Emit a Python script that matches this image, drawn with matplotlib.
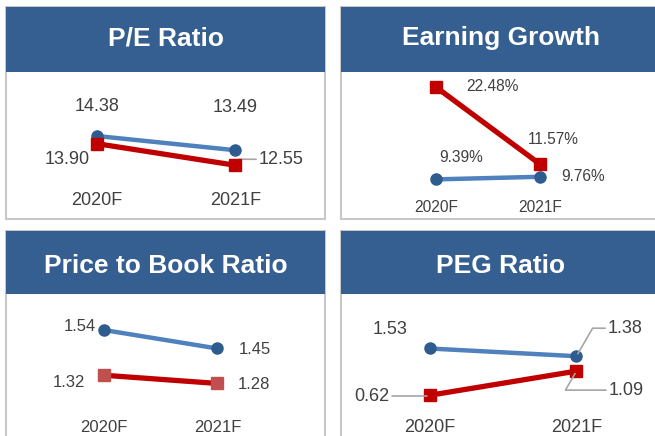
import matplotlib

matplotlib.use('Agg')
import matplotlib.pyplot as plt
from matplotlib.patches import Rectangle

plt.rcParams['font.family'] = ['Liberation Sans', 'DejaVu Sans']

W, H = 655, 436

# data
years = ['2020F', '2021F']
titles = ['P/E Ratio', 'Earning Growth', 'Price to Book Ratio', 'PEG Ratio']
blue_values = [[14.38, 13.49], [9.39, 9.76], [1.54, 1.45], [1.53, 1.38]]
red_values = [[13.90, 12.55], [22.48, 11.57], [1.32, 1.28], [0.62, 1.09]]
blue_labels = [['14.38', '13.49'], ['9.39%', '9.76%'], ['1.54', '1.45'], ['1.53', '1.38']]
red_labels = [['13.90', '12.55'], ['22.48%', '11.57%'], ['1.32', '1.28'], ['0.62', '1.09']]

HEADER = '#365f91'
BORDER = '#c8c8c8'
TEXT = '#404040'
BLUE_LINE = '#4f81bd'
BLUE_MARK = '#2f5c8f'
RED_LINE = '#c00000'

# layout per panel, in pixels: outline, header height, xlim, ylim, font sizes,
# label offsets (dx, dy in px, y up) and leader-line flags
panels = [
	dict(box=(6, 7, 325, 219), head=65, xlim=(-0.655, 1.647), ylim=(9.19, 18.38),
		fs=13, tick_y=200, title_y=45,
		blue_off=[(0, 29), (0, 43)], red_off=[(-30, -16), (46, 6)],
		blue_lead=[False, False], red_lead=[False, True]),
	dict(box=(341, 7, 662, 219), head=65, xlim=(-0.912, 2.176), ylim=(3.78, 24.60),
		fs=11.2, tick_y=207, title_y=45,
		blue_off=[(25, 22), (43, 0)], red_off=[(57, 0), (14, 24)],
		blue_lead=[False, False], red_lead=[False, False]),
	dict(box=(6, 231, 325, 440), head=63, xlim=(-0.860, 1.947), ylim=(1.005, 1.715),
		fs=12, tick_y=427, title_y=273,
		blue_off=[(-24, 3), (37, -1)], red_off=[(-35, -7), (37, -1)],
		blue_lead=[False, False], red_lead=[False, False]),
	dict(box=(341, 231, 662, 440), head=63, xlim=(-0.604, 1.583), ylim=(-0.25, 2.59),
		fs=13, tick_y=427, title_y=273,
		blue_off=[(-40, 19), (49, 28)], red_off=[(-58, -1), (50, -19)],
		blue_lead=[False, True], red_lead=[True, True]),
]

fig = plt.figure(figsize=(W / 100, H / 100), dpi=100)


def fig_rect(x0, y0, x1, y1):
	# pixel box (top-left origin) -> figure fraction [left, bottom, width, height]
	return [x0 / W, 1 - y1 / H, (x1 - x0) / W, (y1 - y0) / H]


def draw_label(ax, x, y, text, off, lead, fs):
	kw = {}
	if lead:
		kw['arrowprops'] = dict(arrowstyle='-', color='#a6a6a6', lw=1.2,
			shrinkA=0, shrinkB=2, connectionstyle='angle,angleA=0,angleB=60,rad=0')
	ax.annotate(text, (x, y), xytext=off, textcoords='offset pixels',
		ha='center', va='center', fontsize=fs, color=TEXT, annotation_clip=False, **kw)


for i, p in enumerate(panels):
	x0, y0, x1, y1 = p['box']
	fig.add_artist(Rectangle((x0 / W, 1 - y1 / H), (x1 - x0) / W, (y1 - y0) / H,
		transform=fig.transFigure, facecolor='white', edgecolor=BORDER, lw=1.5,
		zorder=-2))
	hx = fig_rect(x0, y0, x1, y0 + p['head'])
	fig.add_artist(Rectangle((hx[0], hx[1]), hx[2], hx[3],
		transform=fig.transFigure, facecolor=HEADER, edgecolor='none', zorder=-1))
	cx = (x0 + min(x1, 660)) / 2
	fig.text(cx / W, 1 - p['title_y'] / H, titles[i], ha='center', va='baseline',
		fontsize=19, fontweight='bold', color='white')

	ax = fig.add_axes(fig_rect(x0, y0 + p['head'], x1, y1))
	ax.set_xlim(*p['xlim'])
	ax.set_ylim(*p['ylim'])
	ax.axis('off')
	ax.patch.set_alpha(0)

	xs = range(len(years))
	red_mark = '#c0504d' if i == 2 else RED_LINE
	ax.plot(xs, blue_values[i], color=BLUE_LINE, lw=3.2, marker='o', ms=8,
		mfc=BLUE_MARK, mec=BLUE_MARK, zorder=3)
	ax.plot(xs, red_values[i], color=RED_LINE, lw=3.8, marker='s', ms=8.5,
		mfc=red_mark, mec=red_mark, zorder=4 if i == 0 else 3)

	for j in xs:
		draw_label(ax, j, blue_values[i][j], blue_labels[i][j], p['blue_off'][j],
			p['blue_lead'][j], p['fs'])
		draw_label(ax, j, red_values[i][j], red_labels[i][j], p['red_off'][j],
			p['red_lead'][j], p['fs'])
		ty = 1 - (p['tick_y'] - (y0 + p['head'])) / (y1 - y0 - p['head'])
		ax.text(j, ty, years[j], transform=ax.get_xaxis_transform(),
			ha='center', va='center', fontsize=p['fs'], color=TEXT)

fig.savefig('out.png', dpi=100)
